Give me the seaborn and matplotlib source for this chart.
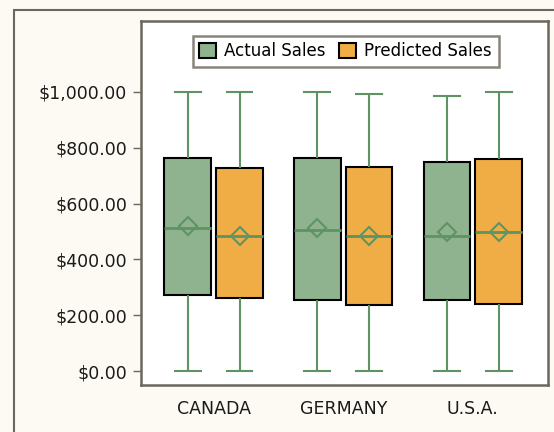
import numpy as np
import pandas as pd
import matplotlib
matplotlib.use('Agg')
import matplotlib.pyplot as plt
import seaborn as sns
from matplotlib.ticker import FuncFormatter

countries = ['CANADA', 'GERMANY', 'U.S.A.']
series = ['Actual Sales', 'Predicted Sales']

# five-number summaries (min, q1, median, q3, max) + means
actual_min = [0, 0, 0]
actual_q1 = [272, 255, 255]
actual_med = [511, 505, 483]
actual_q3 = [763, 763, 749]
actual_max = [1000, 1000, 986]
actual_mean = [518, 511, 499]

predicted_min = [0, 0, 0]
predicted_q1 = [261, 237, 239]
predicted_med = [483, 483, 498]
predicted_q3 = [727, 731, 761]
predicted_max = [1000, 992, 1000]
predicted_mean = [483, 483, 498]

yticks = [0, 200, 400, 600, 800, 1000]

# colours
green_fill = '#8FB38E'
orange_fill = '#F0AD45'
line_green = '#5E9463'
frame_gray = '#6B675C'
cream = '#FCFAF3'

# long table: 5 values per box -> quartiles come out exactly
rows = []
for i, c in enumerate(countries):
    for s, vals in [(series[0], [actual_min, actual_q1, actual_med, actual_q3, actual_max]),
                    (series[1], [predicted_min, predicted_q1, predicted_med, predicted_q3, predicted_max])]:
        for v in vals:
            rows.append({'country': c, 'series': s, 'sales': v[i]})
df = pd.DataFrame(rows)

means = pd.DataFrame({
    'country': countries * 2,
    'series': [series[0]] * 3 + [series[1]] * 3,
    'sales': actual_mean + predicted_mean,
})

plt.rcParams['font.family'] = ['DejaVu Sans']

fig = plt.figure(figsize=(5.54, 4.32), dpi=100, facecolor=cream)
ax = fig.add_axes([141 / 554, 1 - 385 / 432, (548 - 141) / 554, (385 - 21) / 432])
ax.set_facecolor('white')

sns.boxplot(data=df, x='country', y='sales', hue='series', order=countries,
            hue_order=series, palette=[green_fill, orange_fill], saturation=1,
            width=0.8, gap=0.1, whis=(0, 100), linecolor='black', linewidth=1.5,
            medianprops={'color': line_green, 'linewidth': 2},
            whiskerprops={'color': line_green, 'linewidth': 1.5},
            capprops={'color': line_green, 'linewidth': 1.5},
            capwidths=0.2, showfliers=False, ax=ax)

sns.pointplot(data=means, x='country', y='sales', hue='series', order=countries,
              hue_order=series, palette=[line_green, line_green], dodge=0.4,
              errorbar=None, markers='D', linestyles='none', legend=False,
              markersize=9, markerfacecolor='none', markeredgewidth=1.5, ax=ax)

ax.set_xlim(-0.56, 2.58)
ax.set_ylim(-50, 1254)
ax.set_yticks(yticks)
ax.yaxis.set_major_formatter(FuncFormatter(lambda v, p: f'${v:,.2f}'))
ax.set_xlabel('')
ax.set_ylabel('')
ax.tick_params(axis='y', length=6, width=1, color=frame_gray, labelsize=12.5,
               pad=4, labelcolor='#1a1a1a')
ax.tick_params(axis='x', length=0, labelsize=12.5, pad=11, labelcolor='#1a1a1a')
for sp in ax.spines.values():
    sp.set_color(frame_gray)
    sp.set_linewidth(1.8)

handles, labels = ax.get_legend_handles_labels()
leg = ax.legend(handles[:2], labels[:2], loc='upper center', bbox_to_anchor=(0.503, 0.983),
                ncol=2, frameon=True, fancybox=False, edgecolor=frame_gray,
                fontsize=12, handlelength=1.0, handleheight=1.0, handletextpad=0.5,
                columnspacing=0.8, borderpad=0.4)
leg.get_frame().set_linewidth(1.8)

# outer frame around the graph
fig.add_artist(plt.Rectangle((14 / 554, -0.1), 1.2, 1 - 10 / 432 + 0.1,
                             transform=fig.transFigure, fill=False,
                             edgecolor=frame_gray, linewidth=1.5))

fig.savefig('out.png', dpi=100, facecolor=cream)
